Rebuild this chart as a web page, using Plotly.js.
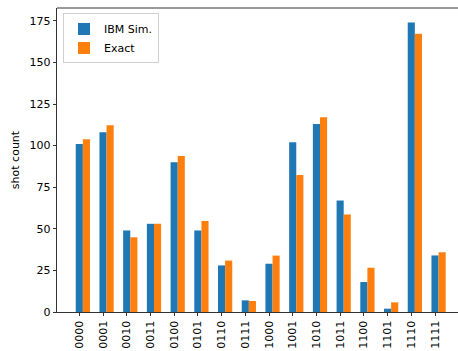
<!DOCTYPE html>
<html>
<head>
<meta charset="utf-8">
<script src="https://cdn.plot.ly/plotly-3.0.1.min.js"></script>
<style>html,body{margin:0;padding:0;background:#fff;overflow:hidden}</style>
</head>
<body>
<div id="chart" style="width:458px;height:351px"></div>
<script>
const categories = ["0000","0001","0010","0011","0100","0101","0110","0111","1000","1001","1010","1011","1100","1101","1110","1111"];
const ibmSim = [101,108,49,53,90,49,28,7,29,102,113,67,18,2,174,34];
const exact = [103.8,112.2,44.9,53.1,93.7,54.7,30.9,6.6,33.9,82.4,117,58.6,26.6,5.8,167.2,35.9];
const yTicks = [0,25,50,75,100,125,150,175];

const idx = categories.map((c,i)=>i);
const font = {family:"DejaVu Sans", size:11, color:"#000"};

const traces = [
  {type:"bar", name:"IBM Sim.", x:idx, y:ibmSim, width:0.3, offset:-0.15,
   marker:{color:"#1f77b4"}},
  {type:"bar", name:"Exact", x:idx.map(i=>i+0.3), y:exact, width:0.3, offset:-0.15,
   marker:{color:"#ff7f0e"}}
];

const layout = {
  width:458, height:351,
  margin:{l:57, r:0, t:8, b:39, pad:0},
  paper_bgcolor:"#fff", plot_bgcolor:"#fff",
  font:font,
  barmode:"overlay",
  showlegend:true,
  legend:{x:0.015, y:0.982, xanchor:"left", yanchor:"top",
    bgcolor:"rgba(255,255,255,0.8)", bordercolor:"#d0d0d0", borderwidth:1,
    font:{family:"DejaVu Sans", size:11, color:"#000"}, itemwidth:30},
  xaxis:{range:[-0.94,15.97], tickmode:"array", tickvals:idx, ticktext:categories,
    tickangle:-90, ticks:"outside", ticklen:3.5, tickwidth:0.8, tickcolor:"#000",
    showgrid:false, zeroline:false, showline:true, linecolor:"#000", linewidth:0.8,
    mirror:false, tickfont:font, fixedrange:true},
  yaxis:{range:[0,182.7], tickmode:"array", tickvals:yTicks, ticktext:yTicks.map(String),
    ticks:"outside", ticklen:3.5, tickwidth:0.8, tickcolor:"#000",
    showgrid:false, zeroline:false, showline:true, linecolor:"#000", linewidth:0.8,
    mirror:false, tickfont:font,
    title:{text:"shot count", font:font, standoff:7}},
  shapes:[{type:"line", xref:"paper", yref:"paper", x0:0, x1:1, y0:1, y1:1,
    line:{color:"#000", width:0.8}}]
};

Plotly.newPlot("chart", traces, layout, {displayModeBar:false, staticPlot:true});
</script>
</body>
</html>
